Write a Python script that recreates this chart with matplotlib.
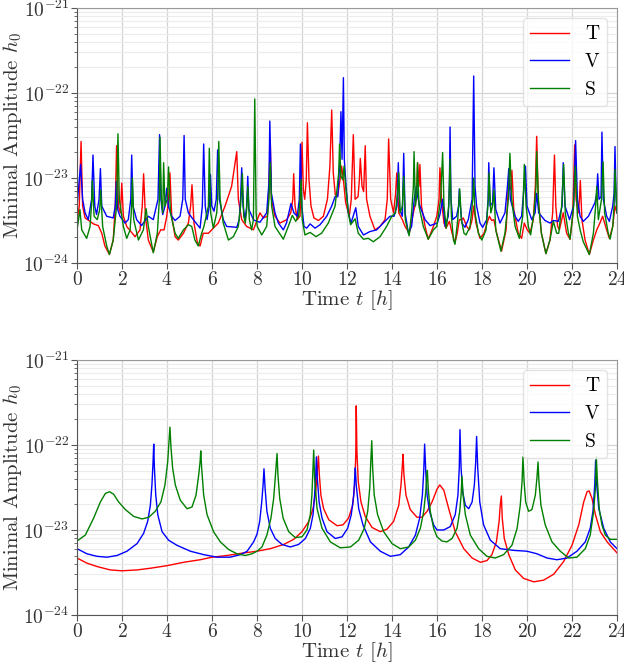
import numpy as np
import matplotlib
matplotlib.use("Agg")
import matplotlib.pyplot as plt
from matplotlib.ticker import LogLocator, NullFormatter

plt.rcParams['font.family'] = 'serif'
plt.rcParams['font.serif'] = ['cmr10']
plt.rcParams['mathtext.fontset'] = 'cm'
plt.rcParams['axes.formatter.use_mathtext'] = True
plt.rcParams['axes.unicode_minus'] = False

# (time [h], log10 h0), upper panel
top_T = [(0.0, -23.51), (0.10, -23.33), (0.18, -22.57), (0.25, -23.33), (0.36, -23.47), (0.58, -23.51),
         (0.73, -23.54), (0.95, -23.56), (1.10, -23.65), (1.24, -23.80), (1.44, -23.90), (1.61, -23.73),
         (1.70, -23.33), (1.76, -22.62), (1.84, -23.33), (1.93, -23.41), (1.99, -23.06), (2.06, -23.45),
         (2.21, -23.57), (2.58, -23.69), (2.80, -23.61), (2.90, -23.33), (2.96, -22.95), (3.04, -23.45),
         (3.17, -23.73), (3.39, -23.87), (3.57, -23.69), (3.72, -23.61), (3.87, -23.61), (3.99, -23.45),
         (4.07, -23.25), (4.13, -22.94), (4.21, -23.45), (4.36, -23.69), (4.50, -23.73), (4.73, -23.65),
         (4.95, -23.53), (5.05, -23.33), (5.11, -23.08), (5.20, -23.53), (5.35, -23.76), (5.47, -23.80),
         (5.61, -23.65), (5.84, -23.65), (6.06, -23.59), (6.28, -23.53), (6.58, -23.33), (6.87, -23.10),
         (7.10, -22.69), (7.17, -23.25), (7.32, -23.49), (7.54, -23.57), (7.84, -23.61), (8.13, -23.41),
         (8.28, -23.47), (8.46, -23.45), (8.53, -23.10), (8.59, -22.55), (8.64, -23.25), (8.80, -23.45),
         (9.02, -23.53), (9.32, -23.49), (9.50, -23.41), (9.59, -23.25), (9.63, -22.95), (9.69, -23.33),
         (9.79, -23.49), (9.91, -23.45), (9.96, -23.10), (10.00, -22.58), (10.06, -23.14), (10.12, -23.25),
         (10.19, -23.02), (10.24, -22.35), (10.31, -23.02), (10.40, -23.33), (10.53, -23.47), (10.73, -23.50),
         (10.95, -23.45), (11.13, -23.25), (11.24, -22.86), (11.32, -22.20), (11.39, -22.94), (11.48, -23.20),
         (11.59, -23.20), (11.69, -23.02), (11.76, -22.86), (11.84, -23.02), (11.94, -23.29), (12.10, -23.45),
         (12.19, -23.25), (12.28, -22.49), (12.36, -23.25), (12.49, -23.22), (12.55, -23.02), (12.59, -22.77),
         (12.67, -23.10), (12.74, -23.16), (12.81, -22.62), (12.87, -23.25), (13.02, -23.45), (13.24, -23.61),
         (13.47, -23.57), (13.69, -23.49), (13.79, -23.25), (13.85, -22.54), (13.94, -23.25), (14.07, -23.41),
         (14.16, -23.18), (14.21, -22.94), (14.30, -23.41), (14.46, -23.49), (14.58, -23.57), (14.77, -23.65),
         (14.95, -23.41), (15.08, -23.25), (15.14, -22.82), (15.20, -23.10), (15.24, -22.84), (15.31, -23.33),
         (15.47, -23.57), (15.61, -23.72), (15.84, -23.57), (15.99, -23.45), (16.09, -23.25), (16.13, -22.88),
         (16.21, -23.29), (16.31, -23.53), (16.40, -23.59), (16.55, -23.51), (16.67, -23.65), (16.80, -23.76),
         (16.90, -23.65), (16.99, -23.49), (17.10, -23.49), (17.17, -23.47), (17.32, -23.57), (17.44, -23.61),
         (17.56, -23.49), (17.63, -23.33), (17.73, -23.53), (17.91, -23.71), (18.09, -23.65), (18.25, -23.51),
         (18.33, -23.45), (18.43, -23.50), (18.53, -23.49), (18.65, -23.65), (18.87, -23.86), (19.07, -23.61),
         (19.14, -23.25), (19.19, -23.00), (19.24, -23.14), (19.29, -23.10), (19.33, -22.91), (19.41, -23.37),
         (19.61, -23.65), (19.76, -23.71), (19.88, -23.53), (20.01, -23.61), (20.13, -23.65), (20.28, -23.49),
         (20.37, -23.10), (20.43, -22.51), (20.50, -23.25), (20.64, -23.65), (20.84, -23.89), (21.02, -23.73),
         (21.14, -23.41), (21.22, -22.73), (21.28, -23.33), (21.36, -23.57), (21.44, -23.61), (21.54, -23.49),
         (21.61, -23.41), (21.76, -23.65), (21.91, -23.72), (22.03, -23.45), (22.12, -22.61), (22.18, -23.25),
         (22.28, -23.41), (22.33, -23.25), (22.37, -23.03), (22.44, -23.49), (22.58, -23.73), (22.77, -23.90),
         (22.95, -23.73), (23.10, -23.61), (23.24, -23.53), (23.36, -23.45), (23.54, -23.61), (23.66, -23.71),
         (23.81, -23.57), (23.91, -23.33), (24.00, -23.41)]

top_V = [(0.0, -23.33), (0.16, -22.84), (0.25, -23.25), (0.36, -23.41), (0.50, -23.49), (0.65, -23.25),
         (0.71, -22.73), (0.79, -23.33), (0.87, -23.43), (0.98, -23.25), (1.04, -22.89), (1.10, -23.33),
         (1.32, -23.45), (1.61, -23.47), (1.70, -23.33), (1.75, -23.04), (1.81, -23.37), (1.91, -23.45),
         (2.13, -23.53), (2.28, -23.49), (2.39, -23.25), (2.43, -22.73), (2.49, -23.33), (2.65, -23.49),
         (2.87, -23.56), (3.17, -23.45), (3.39, -23.49), (3.60, -23.25), (3.67, -22.49), (3.73, -23.25),
         (3.81, -23.43), (3.91, -23.33), (3.99, -23.12), (4.06, -23.33), (4.21, -23.45), (4.36, -23.50),
         (4.58, -23.45), (4.70, -23.25), (4.76, -22.50), (4.81, -23.25), (4.95, -23.41), (5.17, -23.49),
         (5.47, -23.59), (5.57, -23.33), (5.63, -22.60), (5.70, -23.33), (5.78, -23.49), (5.88, -23.33),
         (5.93, -22.96), (5.99, -23.33), (6.09, -23.39), (6.19, -23.25), (6.25, -22.67), (6.33, -23.25),
         (6.50, -23.49), (6.65, -23.57), (7.10, -23.58), (7.21, -23.49), (7.27, -23.25), (7.32, -22.88),
         (7.38, -23.33), (7.47, -23.49), (7.54, -23.33), (7.59, -22.98), (7.64, -23.37), (7.84, -23.49),
         (7.99, -23.51), (8.13, -23.52), (8.43, -23.41), (8.53, -23.06), (8.57, -22.33), (8.64, -23.18),
         (8.80, -23.41), (8.95, -23.53), (9.17, -23.61), (9.31, -23.53), (9.51, -23.30), (9.64, -23.41),
         (9.79, -23.45), (9.88, -23.25), (9.93, -22.60), (9.99, -23.33), (10.09, -23.57), (10.21, -23.59),
         (10.36, -23.54), (10.58, -23.59), (10.80, -23.55), (11.10, -23.45), (11.32, -23.33), (11.47, -23.22),
         (11.59, -23.22), (11.67, -22.86), (11.73, -22.22), (11.78, -22.78), (11.84, -21.82), (11.88, -22.78),
         (11.96, -23.10), (12.06, -23.41), (12.18, -23.53), (12.39, -23.35), (12.50, -23.57), (12.73, -23.67),
         (13.02, -23.63), (13.32, -23.61), (13.61, -23.53), (13.91, -23.45), (14.09, -23.45), (14.22, -23.33),
         (14.28, -22.82), (14.34, -23.37), (14.46, -23.45), (14.52, -22.71), (14.58, -23.41), (14.73, -23.65),
         (14.87, -23.57), (14.99, -23.25), (15.08, -23.10), (15.14, -23.22), (15.24, -23.33), (15.47, -23.49),
         (15.69, -23.56), (16.01, -23.53), (16.13, -23.43), (16.25, -23.25), (16.36, -23.57), (16.50, -23.45),
         (16.55, -23.10), (16.58, -22.40), (16.62, -23.25), (16.70, -23.49), (16.87, -23.45), (16.96, -23.33),
         (16.99, -23.13), (17.04, -23.33), (17.11, -23.53), (17.24, -23.58), (17.39, -23.49), (17.56, -23.25),
         (17.63, -21.80), (17.69, -23.10), (17.76, -23.33), (17.91, -23.53), (18.03, -23.58), (18.21, -23.49),
         (18.27, -23.25), (18.30, -22.82), (18.36, -23.33), (18.47, -23.29), (18.53, -22.88), (18.61, -23.37),
         (18.80, -23.53), (19.02, -23.41), (19.13, -23.10), (19.19, -22.89), (19.26, -23.25), (19.47, -23.45),
         (19.61, -23.51), (19.76, -23.45), (19.87, -23.10), (19.93, -22.86), (20.00, -23.33), (20.21, -23.49),
         (20.36, -23.41), (20.43, -23.18), (20.52, -23.41), (20.80, -23.50), (21.02, -23.53), (21.17, -23.50),
         (21.39, -23.51), (21.56, -23.33), (21.61, -22.82), (21.69, -23.33), (21.89, -23.49), (22.07, -23.33),
         (22.16, -22.56), (22.24, -23.25), (22.36, -23.45), (22.50, -23.51), (22.73, -23.45), (23.02, -23.29),
         (23.10, -23.18), (23.14, -22.95), (23.20, -23.25), (23.29, -23.22), (23.33, -22.46), (23.39, -23.25),
         (23.54, -23.45), (23.66, -23.51), (23.81, -23.33), (23.87, -23.18), (23.91, -22.63), (23.96, -23.25),
         (24.00, -23.41)]

top_S = [(0.0, -23.61), (0.07, -23.49), (0.13, -23.37), (0.21, -23.61), (0.43, -23.71), (0.58, -23.57),
         (0.65, -23.29), (0.68, -23.03), (0.76, -23.45), (0.90, -23.49), (1.01, -23.37), (1.05, -23.14),
         (1.14, -23.57), (1.32, -23.80), (1.44, -23.90), (1.61, -23.73), (1.76, -23.33), (1.82, -22.48),
         (1.88, -23.25), (2.06, -23.57), (2.21, -23.71), (2.36, -23.61), (2.43, -23.33), (2.46, -23.00),
         (2.52, -23.49), (2.73, -23.73), (2.95, -23.61), (3.07, -23.36), (3.17, -23.57), (3.39, -23.88),
         (3.57, -23.65), (3.66, -23.25), (3.69, -22.52), (3.75, -23.25), (3.81, -23.41), (3.85, -22.82),
         (3.91, -23.33), (4.01, -23.25), (4.07, -22.87), (4.15, -23.41), (4.36, -23.65), (4.50, -23.71),
         (4.73, -23.61), (4.95, -23.55), (5.10, -23.57), (5.24, -23.73), (5.39, -23.80), (5.54, -23.65),
         (5.64, -23.57), (5.84, -23.33), (5.88, -22.65), (5.94, -23.41), (6.06, -23.59), (6.21, -23.41),
         (6.25, -23.25), (6.30, -22.57), (6.36, -23.25), (6.50, -23.53), (6.73, -23.73), (6.95, -23.69),
         (7.17, -23.57), (7.27, -23.33), (7.35, -22.95), (7.41, -23.45), (7.48, -23.53), (7.54, -23.37),
         (7.59, -23.10), (7.66, -23.49), (7.76, -23.61), (7.84, -23.49), (7.90, -22.07), (7.96, -23.41),
         (8.01, -23.57), (8.21, -23.67), (8.43, -23.57), (8.53, -23.25), (8.59, -22.82), (8.65, -23.33),
         (8.80, -23.57), (9.17, -23.72), (9.39, -23.57), (9.57, -23.44), (9.72, -23.51), (9.85, -23.45),
         (9.91, -23.25), (9.96, -23.02), (10.01, -23.49), (10.13, -23.67), (10.36, -23.64), (10.62, -23.69),
         (10.87, -23.65), (11.17, -23.53), (11.47, -23.33), (11.57, -23.10), (11.63, -22.94), (11.67, -22.60),
         (11.73, -22.98), (11.81, -23.02), (11.87, -22.86), (11.94, -23.10), (12.06, -23.41), (12.16, -23.55),
         (12.36, -23.48), (12.50, -23.65), (12.73, -23.72), (12.95, -23.71), (13.17, -23.75), (13.47, -23.69),
         (13.76, -23.57), (13.99, -23.45), (14.15, -23.41), (14.25, -23.18), (14.30, -22.94), (14.36, -23.41),
         (14.46, -23.33), (14.52, -22.98), (14.59, -23.49), (14.76, -23.68), (14.87, -23.41), (14.95, -23.10),
         (14.98, -22.69), (15.04, -23.33), (15.10, -23.18), (15.13, -22.82), (15.20, -23.33), (15.39, -23.57),
         (15.61, -23.72), (15.84, -23.61), (15.99, -23.57), (16.16, -23.25), (16.25, -22.70), (16.31, -23.33),
         (16.41, -23.59), (16.52, -23.33), (16.58, -22.78), (16.64, -23.45), (16.73, -23.73), (16.80, -23.78),
         (16.92, -23.49), (17.01, -23.13), (17.08, -23.49), (17.20, -23.65), (17.29, -23.67), (17.47, -23.57),
         (17.59, -23.25), (17.63, -23.00), (17.69, -23.41), (17.84, -23.65), (17.99, -23.73), (18.18, -23.61),
         (18.28, -23.25), (18.31, -22.94), (18.39, -23.41), (18.47, -23.33), (18.53, -23.14), (18.61, -23.61),
         (18.84, -23.86), (19.02, -23.65), (19.17, -23.25), (19.24, -22.71), (19.32, -23.25), (19.47, -23.57),
         (19.66, -23.71), (19.81, -23.45), (19.88, -22.84), (19.96, -23.33), (20.06, -23.57), (20.16, -23.67),
         (20.31, -23.41), (20.40, -23.10), (20.43, -22.69), (20.52, -23.33), (20.64, -23.65), (20.84, -23.89),
         (21.02, -23.73), (21.17, -23.51), (21.32, -23.65), (21.41, -23.65), (21.54, -23.33), (21.63, -22.84),
         (21.70, -23.41), (21.84, -23.65), (21.91, -23.72), (22.06, -23.37), (22.15, -22.86), (22.24, -23.45),
         (22.36, -23.61), (22.50, -23.75), (22.77, -23.90), (22.95, -23.65), (23.05, -23.33), (23.10, -23.10),
         (23.17, -23.49), (23.31, -23.25), (23.38, -22.81), (23.45, -23.41), (23.61, -23.65), (23.69, -23.72),
         (23.81, -23.57), (23.87, -23.33), (23.91, -22.90), (24.00, -23.41)]

# lower panel
bot_T = [(0.0, -23.33), (0.44, -23.39), (0.89, -23.43), (1.48, -23.47), (2.0, -23.48), (2.67, -23.47),
         (3.26, -23.45), (4.0, -23.42), (4.74, -23.38), (5.48, -23.35), (6.0, -23.32), (6.67, -23.30),
         (7.41, -23.27), (8.0, -23.25), (8.59, -23.22), (9.19, -23.17), (9.63, -23.11), (10.0, -23.02),
         (10.30, -22.90), (10.49, -22.75), (10.61, -22.55), (10.68, -22.31), (10.73, -22.13), (10.77, -22.35),
         (10.84, -22.59), (10.96, -22.75), (11.19, -22.88), (11.56, -22.95), (11.82, -22.94), (12.07, -22.86),
         (12.25, -22.71), (12.34, -22.47), (12.39, -22.12), (12.41, -21.54), (12.44, -22.08), (12.50, -22.43),
         (12.62, -22.67), (12.81, -22.84), (13.11, -22.97), (13.48, -23.02), (13.78, -22.99), (14.07, -22.90),
         (14.30, -22.71), (14.40, -22.47), (14.46, -22.24), (14.49, -22.11), (14.53, -22.35), (14.62, -22.59),
         (14.81, -22.76), (15.11, -22.85), (15.33, -22.85), (15.56, -22.78), (15.78, -22.67), (16.0, -22.52),
         (16.12, -22.47), (16.30, -22.53), (16.52, -22.75), (16.81, -23.02), (17.19, -23.22), (17.56, -23.33),
         (17.93, -23.38), (18.22, -23.36), (18.44, -23.29), (18.64, -23.14), (18.76, -22.90), (18.81, -22.71),
         (18.86, -22.60), (18.90, -22.86), (18.99, -23.10), (19.19, -23.29), (19.48, -23.47), (19.85, -23.57),
         (20.30, -23.61), (20.74, -23.59), (21.19, -23.52), (21.63, -23.37), (22.0, -23.18), (22.30, -22.94),
         (22.52, -22.67), (22.67, -22.55), (22.76, -22.54), (22.89, -22.63), (23.04, -22.82), (23.26, -23.02),
         (23.56, -23.14), (24.0, -23.27)]

bot_V = [(0.0, -23.22), (0.44, -23.28), (0.89, -23.31), (1.33, -23.32), (1.78, -23.30), (2.22, -23.25),
         (2.67, -23.16), (2.96, -23.04), (3.14, -22.90), (3.26, -22.71), (3.33, -22.47), (3.38, -22.20),
         (3.41, -21.99), (3.44, -22.27), (3.50, -22.59), (3.59, -22.82), (3.78, -23.02), (4.07, -23.12),
         (4.44, -23.18), (5.04, -23.25), (5.63, -23.29), (6.22, -23.32), (6.81, -23.32), (7.26, -23.29),
         (7.56, -23.25), (7.85, -23.14), (8.0, -23.05), (8.12, -22.90), (8.21, -22.67), (8.27, -22.47),
         (8.31, -22.28), (8.36, -22.51), (8.44, -22.78), (8.59, -22.98), (8.81, -23.10), (9.11, -23.17),
         (9.48, -23.20), (9.85, -23.17), (10.15, -23.10), (10.37, -22.98), (10.49, -22.82), (10.56, -22.59),
         (10.61, -22.35), (10.64, -22.14), (10.68, -22.39), (10.76, -22.67), (10.89, -22.86), (11.11, -23.02),
         (11.48, -23.10), (11.78, -23.08), (12.03, -22.98), (12.19, -22.82), (12.30, -22.59), (12.34, -22.39),
         (12.37, -22.27), (12.41, -22.47), (12.52, -22.75), (12.71, -22.94), (13.04, -23.14), (13.48, -23.25),
         (13.93, -23.31), (14.37, -23.29), (14.74, -23.20), (15.04, -23.06), (15.23, -22.86), (15.35, -22.59),
         (15.41, -22.31), (15.45, -21.99), (15.50, -22.31), (15.56, -22.59), (15.67, -22.78), (15.85, -22.94),
         (16.0, -23.00), (16.30, -23.00), (16.59, -22.96), (16.81, -22.82), (16.93, -22.59), (16.99, -22.27),
         (17.02, -21.82), (17.07, -22.27), (17.14, -22.55), (17.26, -22.71), (17.41, -22.75), (17.56, -22.67),
         (17.66, -22.47), (17.72, -22.20), (17.76, -21.90), (17.81, -22.27), (17.90, -22.67), (18.07, -22.94),
         (18.37, -23.12), (18.81, -23.22), (19.41, -23.24), (20.0, -23.25), (20.44, -23.28), (20.89, -23.33),
         (21.33, -23.35), (21.78, -23.33), (22.22, -23.25), (22.59, -23.14), (22.81, -22.98), (22.93, -22.78),
         (23.01, -22.47), (23.05, -22.18), (23.10, -22.47), (23.19, -22.75), (23.41, -22.98), (23.70, -23.14),
         (24.0, -23.22)]

bot_S = [(0.0, -23.13), (0.37, -23.06), (0.74, -22.86), (1.04, -22.67), (1.26, -22.57), (1.45, -22.55),
         (1.63, -22.58), (1.85, -22.67), (2.15, -22.76), (2.52, -22.84), (2.89, -22.87), (3.19, -22.85),
         (3.48, -22.78), (3.73, -22.67), (3.91, -22.47), (4.03, -22.20), (4.09, -21.96), (4.13, -21.79),
         (4.18, -22.04), (4.25, -22.27), (4.37, -22.47), (4.59, -22.65), (4.89, -22.75), (5.11, -22.73),
         (5.29, -22.59), (5.41, -22.35), (5.47, -22.20), (5.50, -22.07), (5.54, -22.27), (5.63, -22.59),
         (5.78, -22.82), (6.07, -23.02), (6.37, -23.14), (6.74, -23.23), (7.11, -23.28), (7.48, -23.30),
         (7.78, -23.28), (8.0, -23.25), (8.22, -23.20), (8.44, -23.06), (8.62, -22.86), (8.74, -22.63),
         (8.81, -22.39), (8.86, -22.20), (8.89, -22.10), (8.93, -22.35), (9.01, -22.63), (9.16, -22.86),
         (9.41, -23.02), (9.70, -23.09), (10.0, -23.08), (10.22, -23.00), (10.37, -22.82), (10.44, -22.59),
         (10.49, -22.27), (10.52, -22.06), (10.56, -22.39), (10.67, -22.75), (10.89, -22.98), (11.26, -23.14),
         (11.70, -23.21), (12.15, -23.20), (12.52, -23.12), (12.77, -22.98), (12.92, -22.78), (13.01, -22.51),
         (13.05, -22.24), (13.10, -21.95), (13.14, -22.27), (13.21, -22.59), (13.36, -22.82), (13.63, -23.02),
         (14.0, -23.16), (14.37, -23.22), (14.74, -23.20), (15.04, -23.12), (15.26, -22.98), (15.41, -22.78),
         (15.50, -22.55), (15.54, -22.39), (15.57, -22.30), (15.61, -22.51), (15.70, -22.78), (15.85, -22.98),
         (16.0, -23.08), (16.22, -23.13), (16.44, -23.14), (16.67, -23.10), (16.89, -22.98), (17.01, -22.78),
         (17.07, -22.59), (17.11, -22.37), (17.16, -22.59), (17.26, -22.82), (17.48, -23.06), (17.85, -23.22),
         (18.22, -23.31), (18.59, -23.33), (18.96, -23.29), (19.33, -23.18), (19.56, -22.98), (19.70, -22.71),
         (19.78, -22.43), (19.82, -22.14), (19.87, -22.43), (19.94, -22.67), (20.07, -22.78), (20.22, -22.76),
         (20.37, -22.59), (20.44, -22.39), (20.49, -22.20), (20.53, -22.43), (20.62, -22.71), (20.81, -22.94),
         (21.11, -23.14), (21.48, -23.25), (21.85, -23.33), (22.22, -23.32), (22.59, -23.22), (22.81, -23.06),
         (22.96, -22.78), (23.04, -22.51), (23.08, -22.14), (23.13, -22.43), (23.21, -22.75), (23.33, -22.94),
         (23.48, -23.06), (23.70, -23.11), (24.0, -23.11)]

labels = ['T', 'V', 'S']
colors = ['red', 'blue', 'green']


def draw_panel(ax, series):
    for pts, lab, col in zip(series, labels, colors):
        t = np.array([p[0] for p in pts])
        h = 10.0 ** np.array([p[1] for p in pts])
        ax.plot(t, h, color=col, lw=1.0, label=lab)
    ax.set_yscale('log')
    ax.set_xlim(0, 24)
    ax.set_ylim(1e-24, 1e-21)
    ax.set_xticks(range(0, 25, 2))
    ax.yaxis.set_minor_locator(LogLocator(base=10, subs=np.arange(2, 10)))
    ax.yaxis.set_minor_formatter(NullFormatter())
    ax.grid(which='major', color='#d4d4d4', lw=0.9)
    ax.grid(which='minor', axis='y', color='#ececec', lw=0.8)
    ax.set_axisbelow(True)
    for side in ['top', 'right']:
        ax.spines[side].set_color('#999999')
    for side in ['left', 'bottom']:
        ax.spines[side].set_color('#555555')
    ax.tick_params(which='major', direction='out', length=4, width=0.8, color='#555555',
                   labelsize=14, labelcolor='#333333', pad=1.5)
    ax.tick_params(which='minor', direction='out', length=2.5, width=0.6, color='#555555')
    ax.set_xlabel('Time $t$ $[h]$', fontsize=15, color='#333333')
    ax.set_ylabel('Minimal Amplitude $h_0$', fontsize=15, color='#333333')
    ax.xaxis.set_label_coords(0.5, -0.1)
    ax.yaxis.set_label_coords(-0.098, 0.5)
    ax.legend(loc='upper right', fontsize=14, framealpha=0.8, edgecolor='#dddddd')


fig = plt.figure(figsize=(6.24, 6.66), dpi=100)
ax1 = fig.add_axes([0.1234, 0.6051, 0.8654, 0.3829])
ax2 = fig.add_axes([0.1234, 0.0766, 0.8654, 0.3829])
draw_panel(ax1, [top_T, top_V, top_S])
draw_panel(ax2, [bot_T, bot_V, bot_S])

fig.savefig('out.png', dpi=100)
